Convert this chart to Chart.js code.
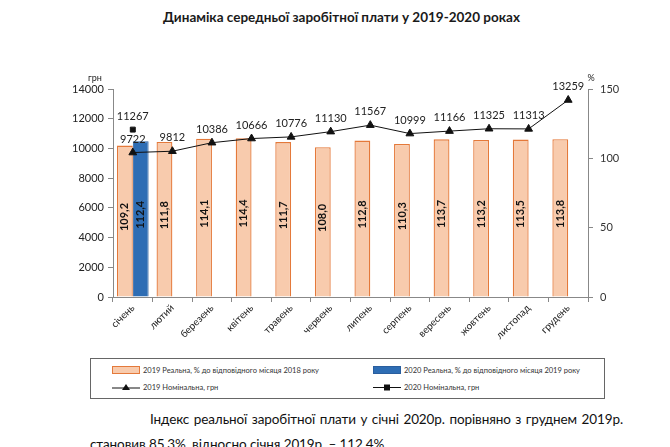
<!DOCTYPE html>
<html><head><meta charset="utf-8">
<script src="https://cdn.jsdelivr.net/npm/chart.js@4/dist/chart.umd.min.js"></script>
<style>
body{margin:0;width:670px;height:447px;overflow:hidden;background:#fff;font-family:Lato,"Open Sans",sans-serif;position:relative}
#title{position:absolute;left:0;top:9px;width:683px;text-align:center;font-weight:bold;font-size:13.5px;color:#1a1a1a}
#wrap{position:absolute;left:0;top:0;width:670px;height:350px}
#legend{position:absolute;left:90px;top:358px;width:515px;height:41px;border:1px solid #666;box-sizing:border-box;font-size:7.5px;color:#333}
.li{position:absolute;display:flex;align-items:center;white-space:nowrap}
.li svg{margin-right:3px}
#para{position:absolute;left:90px;top:407px;width:526px;font-size:13.5px;line-height:25px;color:#111;letter-spacing:-0.1px}
#para .l1{display:block;margin-left:60px;white-space:nowrap;word-spacing:1.2px}
</style></head>
<body>
<div id="title">Динаміка середньої заробітної плати у 2019-2020 роках</div>
<div id="wrap"><canvas id="c" width="670" height="350"></canvas></div>
<div id="legend"></div>
<div id="para"><span class="l1">Індекс реальної заробітної плати у січні 2020р. порівняно з груднем 2019р.</span>становив 85,3%, відносно січня 2019р. – 112,4%.</div>
<script>
const months = ['січень','лютий','березень','квітень','травень','червень','липень','серпень','вересень','жовтень','листопад','грудень'];
const real2019 = [109.2,111.8,114.1,114.4,111.7,108.0,112.8,110.3,113.7,113.2,113.5,113.8];
const real2020 = [112.4,null,null,null,null,null,null,null,null,null,null,null];
const nominal2019 = [9722,9812,10386,10666,10776,11130,11567,10999,11166,11325,11313,13259];
const nominal2020 = [11267,null,null,null,null,null,null,null,null,null,null,null];
const leftTicks = [0,2000,4000,6000,8000,10000,12000,14000];
const rightTicks = [0,50,100,150];
const labels = {
  r19:'2019 Реальна, % до відповідного місяця 2018 року',
  r20:'2020 Реальна, % до відповідного місяця 2019 року',
  n19:'2019 Номінальна, грн',
  n20:'2020 Номінальна, грн'
};

const FONT = 'Lato, "Open Sans", sans-serif';

const valuePlugin = {
  id:'vals',
  afterDatasetsDraw(chart){
    const ctx = chart.ctx;
    chart.data.datasets.forEach((ds,i)=>{
      const meta = chart.getDatasetMeta(i);
      meta.data.forEach((el,j)=>{
        const v = ds.data[j];
        if(v==null) return;
        ctx.save();
        if(ds.type==='bar'){
          const y = (el.y + el.base)/2 - 4;
          ctx.translate(el.x, y);
          ctx.rotate(-Math.PI/2);
          ctx.font = 'bold 11px ' + FONT;
          ctx.fillStyle = '#111';
          ctx.textAlign='center'; ctx.textBaseline='middle';
          ctx.fillText(v.toFixed(1).replace('.',','),0,0);
        } else {
          ctx.font = '11px ' + FONT;
          ctx.fillStyle = '#222';
          ctx.textAlign='center'; ctx.textBaseline='bottom';
          ctx.fillText(String(v), el.x, el.y-8);
        }
        ctx.restore();
      });
    });
    const l = chart.scales.y, r = chart.scales.y2;
    ctx.save();
    ctx.font = '9px ' + FONT; ctx.fillStyle='#222';
    ctx.textAlign='center'; ctx.textBaseline='bottom';
    ctx.fillText('грн', l.right-18, l.top-6);
    ctx.fillText('%', r.left+3, r.top-6);
    ctx.restore();
  }
};

new Chart(document.getElementById('c'), {
  data:{
    labels: months,
    datasets:[
      {type:'line', label:labels.n19, data:nominal2019, yAxisID:'y', borderColor:'#111', backgroundColor:'#111', borderWidth:1, pointStyle:'triangle', pointRadius:4.5, pointHoverRadius:4.5, order:1},
      {type:'line', label:labels.n20, data:nominal2020, yAxisID:'y', borderColor:'#111', backgroundColor:'#111', borderWidth:1, pointStyle:'rect', pointRadius:3.5, pointHoverRadius:3.5, order:1},
      {type:'bar', label:labels.r19, data:real2019, yAxisID:'y2', backgroundColor:'#F8CBAD', borderColor:'#E4793A', borderWidth:1.3, categoryPercentage:0.8, barPercentage:1, order:2},
      {type:'bar', label:labels.r20, data:real2020, yAxisID:'y2', backgroundColor:'#2E6DB4', borderColor:'#2A5E9E', borderWidth:1, categoryPercentage:0.8, barPercentage:1, order:2}
    ]
  },
  options:{
    responsive:false,
    animation:false,
    layout:{padding:{top:89,left:0,right:0,bottom:0}},
    plugins:{legend:{display:false}, title:{display:false}, tooltip:{enabled:false}},
    scales:{
      x:{
        offset:true,
        grid:{display:true, drawOnChartArea:false, drawTicks:true, tickLength:5, color:'#888', offset:true},
        border:{display:true, color:'#888'},
        ticks:{minRotation:45, maxRotation:45, font:{size:10, family:FONT}, color:'#222', padding:0},
        afterFit(s){ s.height = 53; }
      },
      y:{
        position:'left', min:0, max:14000,
        afterBuildTicks(s){ s.ticks = leftTicks.map(v=>({value:v})); },
        grid:{drawOnChartArea:false, drawTicks:true, tickLength:5, color:'#888'},
        border:{display:true, color:'#888'},
        ticks:{font:{size:11, family:FONT}, color:'#222', padding:4, callback:(v)=>String(v)},
        afterFit(s){ s.width = 113; }
      },
      y2:{
        position:'right', min:0, max:150,
        afterBuildTicks(s){ s.ticks = rightTicks.map(v=>({value:v})); },
        grid:{drawOnChartArea:false, drawTicks:true, tickLength:5, color:'#888'},
        border:{display:true, color:'#888'},
        ticks:{font:{size:11, family:FONT}, color:'#333', padding:7, callback:(v)=>String(v)},
        afterFit(s){ s.width = 82; }
      }
    }
  },
  plugins:[valuePlugin]
});

const lg = document.getElementById('legend');
function item(x,y,svg,text){
  const d=document.createElement('div'); d.className='li';
  d.style.left=x+'px'; d.style.top=y+'px';
  d.innerHTML=svg+'<span>'+text+'</span>';
  lg.appendChild(d);
}
const boxSvg=(f,s)=>`<svg width="28" height="9"><rect x="0.5" y="0.5" width="27" height="7" fill="${f}" stroke="${s}" stroke-width="1"/></svg>`;
const triSvg=`<svg width="28" height="9"><line x1="0" y1="5" x2="28" y2="5" stroke="#111" stroke-width="1"/><polygon points="14,1 18,7 10,7" fill="#111"/></svg>`;
const sqSvg=`<svg width="28" height="9"><line x1="0" y1="4.5" x2="28" y2="4.5" stroke="#111" stroke-width="1"/><rect x="11" y="1.5" width="6" height="6" fill="#111"/></svg>`;
item(21,7,boxSvg('#F8CBAD','#E4793A'),labels.r19);
item(282,7,boxSvg('#2E6DB4','#2A5E9E'),labels.r20);
item(21,24,triSvg,labels.n19);
item(282,24,sqSvg,labels.n20);
</script>
</body></html>
